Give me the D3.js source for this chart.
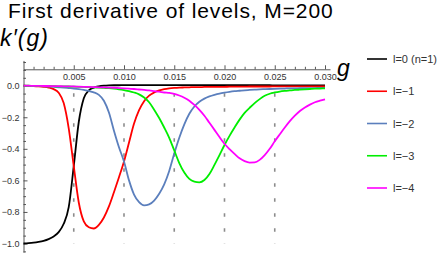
<!DOCTYPE html>
<html>
<head>
<meta charset="utf-8">
<script src="https://cdn.jsdelivr.net/npm/d3@7"></script>
<style>
  body { margin: 0; background: #fff; }
  svg { display: block; font-family: "Liberation Sans", Arial, sans-serif; }
</style>
</head>
<body>
<div id="chart"></div>
<script>
// ---------------------------------------------------------------------------
// data read off the picture: k'(g) for the lowest levels, sampled on gGrid
// ---------------------------------------------------------------------------
var gGrid = [0, 0.0005, 0.001, 0.0015, 0.002, 0.0025, 0.003, 0.0035, 0.004, 0.0045,
             0.005, 0.0055, 0.006, 0.0065, 0.007, 0.0075, 0.008, 0.0085, 0.009, 0.0095,
             0.010, 0.0105, 0.011, 0.0115, 0.012, 0.0125, 0.013, 0.0135, 0.014, 0.0145,
             0.015, 0.0155, 0.016, 0.0165, 0.017, 0.0175, 0.018, 0.0185, 0.019, 0.0195,
             0.020, 0.0205, 0.021, 0.0215, 0.022, 0.0225, 0.023, 0.0235, 0.024, 0.0245,
             0.025, 0.0255, 0.026, 0.0265, 0.027, 0.0275, 0.028, 0.0285, 0.029, 0.0295,
             0.030];

var levelL0 = [-1.000, -0.998, -0.995, -0.990, -0.983, -0.972, -0.955, -0.928, -0.875, -0.770,
               -0.510, -0.230, -0.080, -0.030, -0.012, -0.004, 0.000, 0.002, 0.003, 0.003,
               0.004, 0.004, 0.004, 0.004, 0.004, 0.004, 0.004, 0.004, 0.004, 0.004,
               0.004, 0.004, 0.004, 0.004, 0.004, 0.004, 0.004, 0.004, 0.004, 0.004,
               0.003, 0.003, 0.003, 0.003, 0.003, 0.003, 0.003, 0.003, 0.003, 0.003,
               0.002, 0.002, 0.002, 0.002, 0.002, 0.002, 0.002, 0.002, 0.002, 0.002,
               0.002];

var levelL1 = [0.000, -0.001, -0.002, -0.004, -0.007, -0.012, -0.022, -0.045, -0.110, -0.270,
               -0.510, -0.740, -0.860, -0.897, -0.905, -0.882, -0.835, -0.765, -0.675, -0.580,
               -0.480, -0.360, -0.240, -0.155, -0.098, -0.063, -0.043, -0.030, -0.022, -0.017,
               -0.014, -0.012, -0.011, -0.010, -0.009, -0.009, -0.008, -0.008, -0.007, -0.007,
               -0.007, -0.006, -0.006, -0.006, -0.006, -0.005, -0.005, -0.005, -0.005, -0.005,
               -0.004, -0.004, -0.004, -0.004, -0.004, -0.004, -0.004, -0.004, -0.004, -0.004,
               -0.004];

var levelL2 = [0.000, -0.001, -0.002, -0.003, -0.004, -0.006, -0.008, -0.010, -0.012, -0.015,
               -0.018, -0.022, -0.027, -0.033, -0.042, -0.058, -0.095, -0.170, -0.285, -0.390,
               -0.480, -0.600, -0.690, -0.738, -0.758, -0.752, -0.728, -0.685, -0.625, -0.540,
               -0.430, -0.330, -0.245, -0.178, -0.132, -0.102, -0.082, -0.068, -0.058, -0.050,
               -0.044, -0.039, -0.035, -0.032, -0.029, -0.027, -0.025, -0.023, -0.022, -0.021,
               -0.020, -0.019, -0.018, -0.017, -0.017, -0.016, -0.016, -0.015, -0.015, -0.014,
               -0.014];

var levelL3 = [0.000, 0.000, -0.001, -0.001, -0.002, -0.002, -0.003, -0.004, -0.004, -0.005,
               -0.006, -0.007, -0.008, -0.009, -0.011, -0.012, -0.014, -0.016, -0.019, -0.023,
               -0.028, -0.034, -0.043, -0.055, -0.075, -0.105, -0.152, -0.205, -0.265, -0.330,
               -0.410, -0.490, -0.550, -0.590, -0.608, -0.613, -0.598, -0.560, -0.502, -0.440,
               -0.376, -0.318, -0.265, -0.215, -0.172, -0.140, -0.110, -0.085, -0.064, -0.051,
               -0.043, -0.037, -0.033, -0.030, -0.027, -0.025, -0.023, -0.021, -0.019, -0.018,
               -0.017];

var levelL4 = [0.000, 0.000, -0.001, -0.001, -0.002, -0.002, -0.003, -0.003, -0.004, -0.004,
               -0.005, -0.006, -0.007, -0.008, -0.009, -0.010, -0.011, -0.012, -0.013, -0.015,
               -0.017, -0.019, -0.021, -0.024, -0.027, -0.030, -0.034, -0.038, -0.043, -0.046,
               -0.052, -0.062, -0.076, -0.095, -0.122, -0.153, -0.190, -0.235, -0.280, -0.325,
               -0.368, -0.402, -0.432, -0.460, -0.478, -0.487, -0.486, -0.470, -0.440, -0.400,
               -0.352, -0.308, -0.265, -0.225, -0.190, -0.160, -0.138, -0.120, -0.105, -0.095,
               -0.087];

var seriesLabels = ["l=0 (n=1)", "l=\u22121", "l=\u22122", "l=\u22123", "l=\u22124"];
var seriesColors = ["#000000", "#ff0000", "#5b7fbd", "#00ee00", "#ff00ff"];
var seriesValues = [levelL0, levelL1, levelL2, levelL3, levelL4];

// crossing points marked with dashed verticals
var crossings = [0.005, 0.010, 0.015, 0.020, 0.025];

// tick values
var xMajorTicks = [0.005, 0.010, 0.015, 0.020, 0.025, 0.030];
var yMajorTicks = [0.0, -0.2, -0.4, -0.6, -0.8, -1.0];

// ---------------------------------------------------------------------------
// layout
// ---------------------------------------------------------------------------
var W = 444, H = 254;
var axisColor = "#444", labelColor = "#333";

var svg = d3.select("#chart").append("svg")
  .attr("width", W).attr("height", H);

var x = d3.scaleLinear().domain([0, 0.0305]).range([23.5, 23.5 + 0.0305 * 10050]);
var y = d3.scaleLinear().domain([0, -1]).range([85.7, 243.5]);
var yTop = 0.16, yBottom = -1.055, xAxisAt = 0.104;

// minor tick lists (every 0.001 in g, every 0.05 in k')
var xMinorTicks = d3.range(1, 31).map(function(i) { return i / 1000; })
  .filter(function(v) { return Math.round(v * 1000) % 5 !== 0; });
var yMinorTicks = d3.range(-21, 4).map(function(i) { return i * 0.05; })
  .filter(function(v) { return Math.abs(Math.round(v * 20)) % 4 !== 0; });

// title and axis labels
svg.append("text")
  .attr("x", 8).attr("y", 18)
  .attr("font-size", 21).attr("letter-spacing", 0.9)
  .attr("fill", "#000")
  .text("First derivative of levels, M=200");

svg.append("text")
  .attr("x", 0).attr("y", 46)
  .attr("font-size", 23).attr("font-style", "italic")
  .attr("letter-spacing", 1)
  .attr("fill", "#000")
  .text("k\u2032(g)");

svg.append("text")
  .attr("x", 337).attr("y", 76)
  .attr("font-size", 23).attr("font-style", "italic")
  .attr("fill", "#000")
  .text("g");

// dashed crossing markers
svg.append("g").selectAll("line")
  .data(crossings)
  .enter().append("line")
  .attr("x1", function(d) { return x(d); })
  .attr("x2", function(d) { return x(d); })
  .attr("y1", y(0)).attr("y2", y(-1))
  .attr("stroke", "#8c8c8c")
  .attr("stroke-width", 1.6)
  .attr("stroke-dasharray", "3.4,11.6")
  .attr("stroke-dashoffset", 7.4);

// x axis (ticks pointing up, labels underneath)
var xAxisY = y(xAxisAt);
var gx = svg.append("g").attr("transform", "translate(0," + xAxisY + ")")
  .call(d3.axisBottom(x).tickValues(xMajorTicks).tickFormat(d3.format(".3f"))
    .tickSizeInner(-4).tickSizeOuter(0).tickPadding(4.5));
var gxMinor = svg.append("g").attr("transform", "translate(0," + xAxisY + ")")
  .call(d3.axisBottom(x).tickValues(xMinorTicks).tickFormat("")
    .tickSizeInner(-2.5).tickSizeOuter(0));
gxMinor.select(".domain").remove();

// y axis (ticks pointing right, labels to the left)
var yAxis = d3.scaleLinear().domain([yBottom, yTop])
  .range([y(yBottom), y(yTop)]);
var gy = svg.append("g").attr("transform", "translate(" + x(0) + ",0)")
  .call(d3.axisLeft(yAxis).tickValues(yMajorTicks).tickFormat(d3.format(".1f"))
    .tickSizeInner(-4).tickSizeOuter(0).tickPadding(4));
var gyMinor = svg.append("g").attr("transform", "translate(" + x(0) + ",0)")
  .call(d3.axisLeft(yAxis).tickValues(yMinorTicks).tickFormat("")
    .tickSizeInner(-2.5).tickSizeOuter(0));
gyMinor.select(".domain").remove();

[gx, gxMinor, gy, gyMinor].forEach(function(g) {
  g.selectAll("path, line").attr("stroke", axisColor).attr("stroke-width", 0.9);
  g.selectAll("text").attr("fill", labelColor)
    .attr("font-size", 9).attr("font-family", "Liberation Sans, Arial, sans-serif");
});

// curves
var line = d3.line()
  .x(function(d, i) { return x(gGrid[i]); })
  .y(function(d) { return y(d); })
  .curve(d3.curveMonotoneX);

svg.append("g").selectAll("path")
  .data(seriesValues)
  .enter().append("path")
  .attr("d", line)
  .attr("fill", "none")
  .attr("stroke", function(d, i) { return seriesColors[i]; })
  .attr("stroke-width", 1.8);

// legend
var legendY = d3.scalePoint().domain(seriesLabels).range([59, 188]);
var legend = svg.append("g").selectAll("g")
  .data(seriesLabels)
  .enter().append("g")
  .attr("transform", function(d) { return "translate(367," + legendY(d) + ")"; });
legend.append("line")
  .attr("x1", 0).attr("x2", 20)
  .attr("stroke", function(d, i) { return seriesColors[i]; })
  .attr("stroke-width", 1.6);
legend.append("text")
  .attr("x", 26).attr("y", 4)
  .attr("font-size", 11).attr("fill", labelColor)
  .text(function(d) { return d; });
</script>
</body>
</html>
